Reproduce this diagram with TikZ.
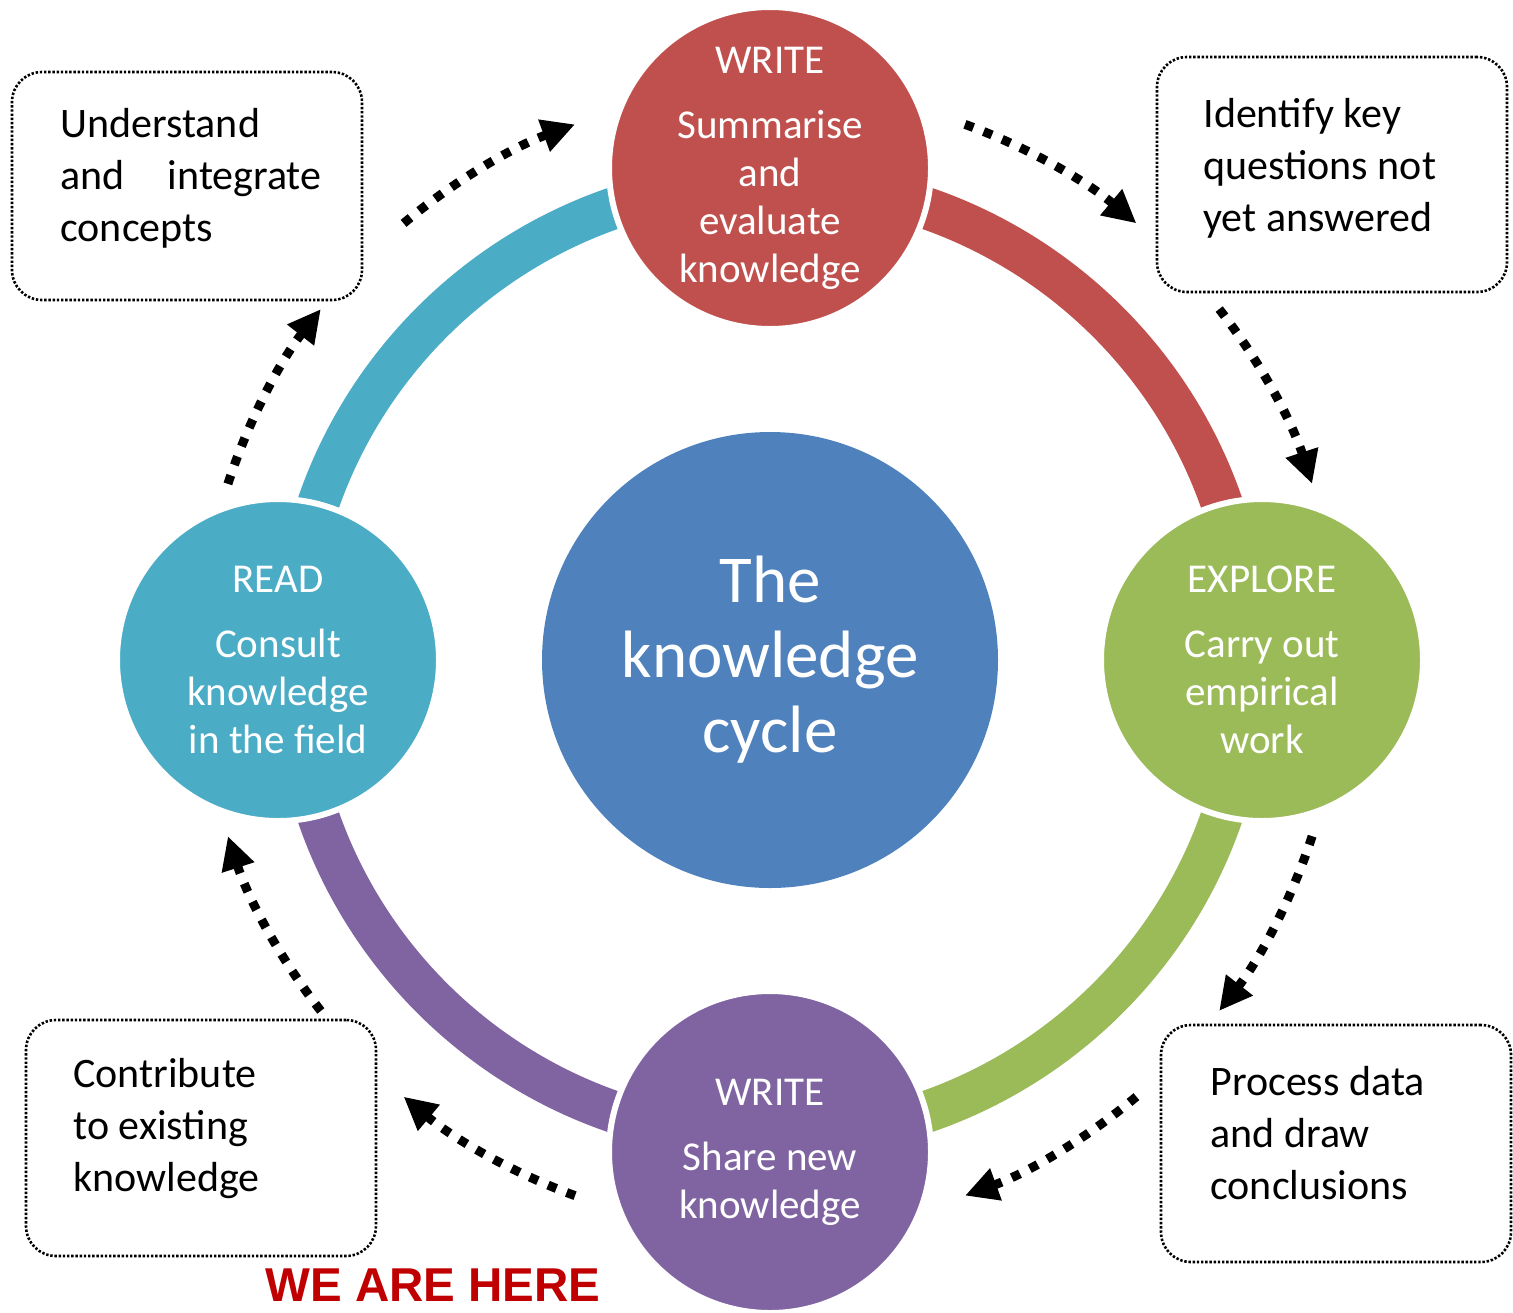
\documentclass[tikz,border=0pt]{standalone}
\usepackage{fontspec}
\setmainfont{Carlito}
\newfontfamily\arialfont{Liberation Sans}
\usetikzlibrary{arrows.meta}
\definecolor{cred}{HTML}{C0504D}
\definecolor{cgreen}{HTML}{9BBB59}
\definecolor{cpurple}{HTML}{8064A2}
\definecolor{cteal}{HTML}{4BACC6}
\definecolor{cblue}{HTML}{4F81BD}
\definecolor{herered}{HTML}{C00000}
\begin{document}
\begin{tikzpicture}[x=0.5pt,y=-0.5pt,
  sat/.style={circle, minimum size=161pt, inner sep=0pt, draw=white, line width=3pt},
  sattext/.style={text=white, align=center, inner sep=0pt, font=\fontsize{20.5}{24}\selectfont},
  ringarc/.style={line width=21pt},
  dotarrow/.style={line width=4.5pt, dash pattern=on 4.5pt off 5.5pt, -{Triangle[length=16.5pt,width=16pt]}},
  notebox/.style={draw, rounded corners=15pt, line width=1.3pt, dash pattern=on 1.2pt off 0.9pt},
  notetext/.style={anchor=west, align=left, inner sep=0pt, font=\fontsize{21}{26}\selectfont}
]
\useasboundingbox (0,0) rectangle (1513,1312);
\coordinate (ctr) at (770,660);
% ring
\draw[ringarc, cred] (ctr) ++(-90:478) arc[start angle=-90, end angle=0, radius=478];
\draw[ringarc, cgreen] (ctr) ++(0:478) arc[start angle=0, end angle=90, radius=478];
\draw[ringarc, cpurple] (ctr) ++(90:478) arc[start angle=90, end angle=180, radius=478];
\draw[ringarc, cteal] (ctr) ++(180:478) arc[start angle=180, end angle=270, radius=478];
% satellite circles
\node[sat, fill=cred] (write) at (770,168) {};
\node[sat, fill=cgreen] (explore) at (1262,660) {};
\node[sat, fill=cpurple] (share) at (770,1152) {};
\node[sat, fill=cteal] (read) at (278,660) {};
\node[sattext] (writet) at (write) {WRITE\\[8.5pt]Summarise\\and\\evaluate\\knowledge};
\node[sattext] (exploret) at (explore) {EXPLORE\\[8.5pt]Carry out\\empirical\\work};
\node[sattext] (sharet) at (share) {WRITE\\[8.5pt]Share new\\knowledge};
\node[sattext] (readt) at (read) {READ\\[8.5pt]Consult\\knowledge\\in the field};
% centre
\node[circle, fill=cblue, minimum size=228pt, inner sep=0pt] (centre) at (ctr) {};
\node[text=white, align=center, inner sep=0pt, font=\fontsize{33.5}{37.5}\selectfont] (centret) at (centre) {The\\knowledge\\cycle};
% dotted arrows
\path (ctr) ++(-70:570) coordinate (a1);
\path (ctr) ++(-38:570) coordinate (a2);
\path (ctr) ++(18:570) coordinate (a3);
\path (ctr) ++(50:570) coordinate (a4);
\path (ctr) ++(110:570) coordinate (a5);
\path (ctr) ++(142:570) coordinate (a6);
\path (ctr) ++(-162:570) coordinate (a7);
\path (ctr) ++(-130:570) coordinate (a8);
\draw[dotarrow] (a1) arc[start angle=-70, end angle=-50, radius=570];
\draw[dotarrow] (a2) arc[start angle=-38, end angle=-18, radius=570];
\draw[dotarrow] (a3) arc[start angle=18, end angle=38, radius=570];
\draw[dotarrow] (a4) arc[start angle=50, end angle=70, radius=570];
\draw[dotarrow] (a5) arc[start angle=110, end angle=130, radius=570];
\draw[dotarrow] (a6) arc[start angle=142, end angle=162, radius=570];
\draw[dotarrow] (a7) arc[start angle=-162, end angle=-142, radius=570];
\draw[dotarrow] (a8) arc[start angle=-130, end angle=-110, radius=570];
% note boxes
\node[notebox, minimum width=175pt, minimum height=114pt] (boxTL) at (187,186) {};
\node[notebox, minimum width=175pt, minimum height=117.5pt] (boxTR) at (1332,174.5) {};
\node[notebox, minimum width=175pt, minimum height=118pt] (boxBL) at (201,1138) {};
\node[notebox, minimum width=175pt, minimum height=118.5pt] (boxBR) at (1336,1143.5) {};
\node[notetext] (tTL) at (60,178) {Understand\\and\hspace{0.8em} integrate\\concepts};
\node[notetext] (tTR) at (1203,168) {Identify key\\questions not\\yet answered};
\node[notetext] (tBL) at (73,1129) {Contribute\\to existing\\knowledge};
\node[notetext] (tBR) at (1210,1133) {Process data\\and draw\\conclusions};
% label
\node[anchor=base west, inner sep=0pt, text=herered, font=\arialfont\bfseries\fontsize{23.75}{28}\selectfont] (here) at (265,1301) {WE ARE HERE};
\end{tikzpicture}
\end{document}
